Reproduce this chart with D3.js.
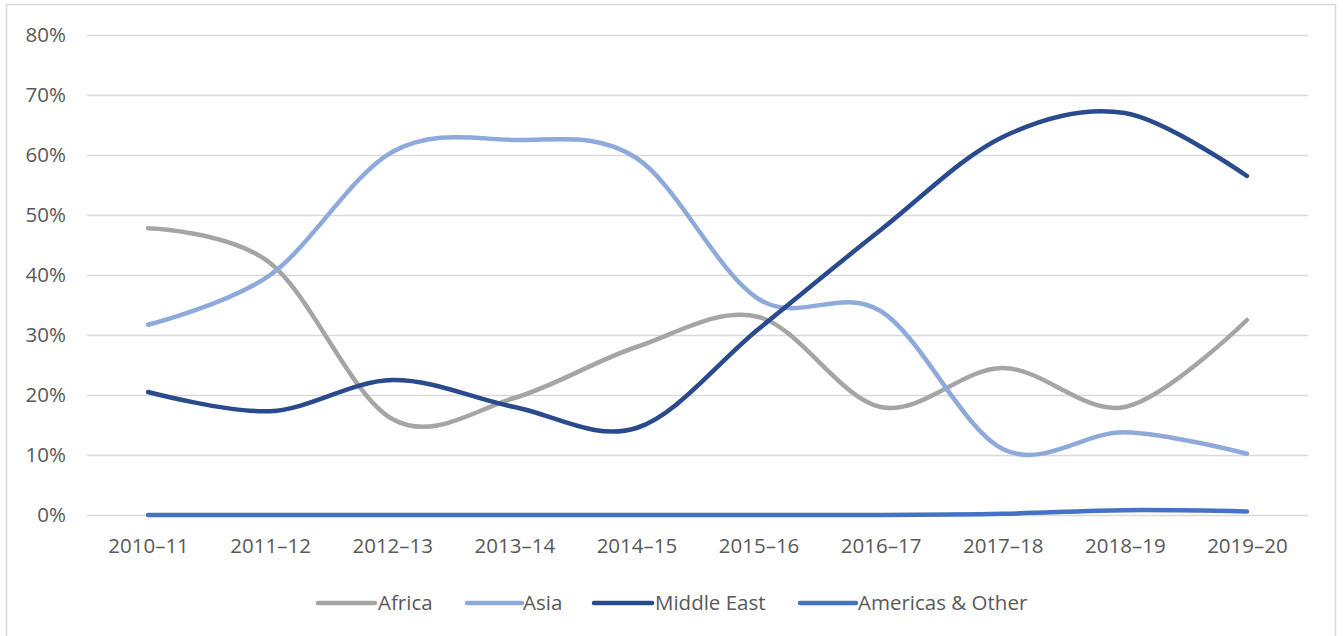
<!DOCTYPE html>
<html><head><meta charset="utf-8">
<script src="https://cdn.jsdelivr.net/npm/d3@7"></script>
<style>body{margin:0;background:#fff;} svg{display:block;}</style>
</head><body><svg id="c" width="1343" height="636"></svg>
<script>
const categories = ["2010–11","2011–12","2012–13","2013–14","2014–15","2015–16","2016–17","2017–18","2018–19","2019–20"];
const africa = [47.8, 42, 16, 19.5, 28, 33, 18, 24.5, 18, 32.5];
const asia = [31.7, 40, 60.5, 62.5, 59.5, 36, 34, 11, 13.8, 10.2];
const middleEast = [20.5, 17.3, 22.5, 18, 14.5, 31, 47.5, 63, 67, 56.5];
const americas = [0, 0, 0, 0, 0, 0, 0, 0.2, 0.8, 0.6];
const seriesNames = ["Africa","Asia","Middle East","Americas & Other"];
const yTicks = [0,10,20,30,40,50,60,70,80];

const series = [
  {name: seriesNames[0], values: africa, color: "#a5a5a5"},
  {name: seriesNames[1], values: asia, color: "#8eaadb"},
  {name: seriesNames[2], values: middleEast, color: "#2a4a8e"},
  {name: seriesNames[3], values: americas, color: "#4472c4"}
];

const svg = d3.select("#c");
const font = "'Open Sans', sans-serif";
const fs = 20.5;
svg.append("rect").attr("x",6.5).attr("y",4.5).attr("width",1329).attr("height",640)
  .attr("fill","#fff").attr("stroke","#d9d9d9").attr("stroke-width",1.5);

const L = 87, R = 1308, T = 35, B = 515;
const x = d3.scalePoint().domain(categories).range([L,R]).padding(0.5);
const y = d3.scaleLinear().domain([0,80]).range([B,T]);

const yAxis = svg.append("g").attr("transform",`translate(${L},0)`)
  .call(d3.axisLeft(y).tickValues(yTicks).tickSize(-(R-L)).tickFormat(d=>d+"%"));
yAxis.select(".domain").remove();
yAxis.selectAll("line").attr("stroke","#d9d9d9").attr("stroke-width",1.3);
yAxis.selectAll("text").attr("x",-21).attr("font-family",font).attr("font-size",fs).attr("fill","#595959");

const xAxis = svg.append("g").attr("transform",`translate(0,${B})`)
  .call(d3.axisBottom(x).tickSize(0).tickPadding(23));
xAxis.select(".domain").remove();
xAxis.selectAll("text").attr("font-family",font).attr("font-size",fs).attr("fill","#595959");

const line = d3.line().x((d,i)=>x(categories[i])).y(d=>y(d)).curve(d3.curveCardinal.tension(0));
svg.append("g").selectAll("path").data(series).join("path")
  .attr("d", d=>line(d.values)).attr("fill","none").attr("stroke",d=>d.color)
  .attr("stroke-width",4.5).attr("stroke-linecap","round").attr("stroke-linejoin","round");

const legendPos = [[318,375,378],[467,522,523],[594,652,655],[800,856,858]];
const lg = svg.append("g");
series.forEach((s,i)=>{
  const p = legendPos[i];
  const g = lg.append("g").attr("transform",`translate(0,603)`);
  g.append("line").attr("x1",p[0]).attr("x2",p[1]).attr("stroke",s.color).attr("stroke-width",4.5).attr("stroke-linecap","round");
  g.append("text").attr("x",p[2]).attr("dy","0.36em").attr("font-family",font).attr("font-size",fs).attr("fill","#595959").text(s.name);
});
</script></body></html>
